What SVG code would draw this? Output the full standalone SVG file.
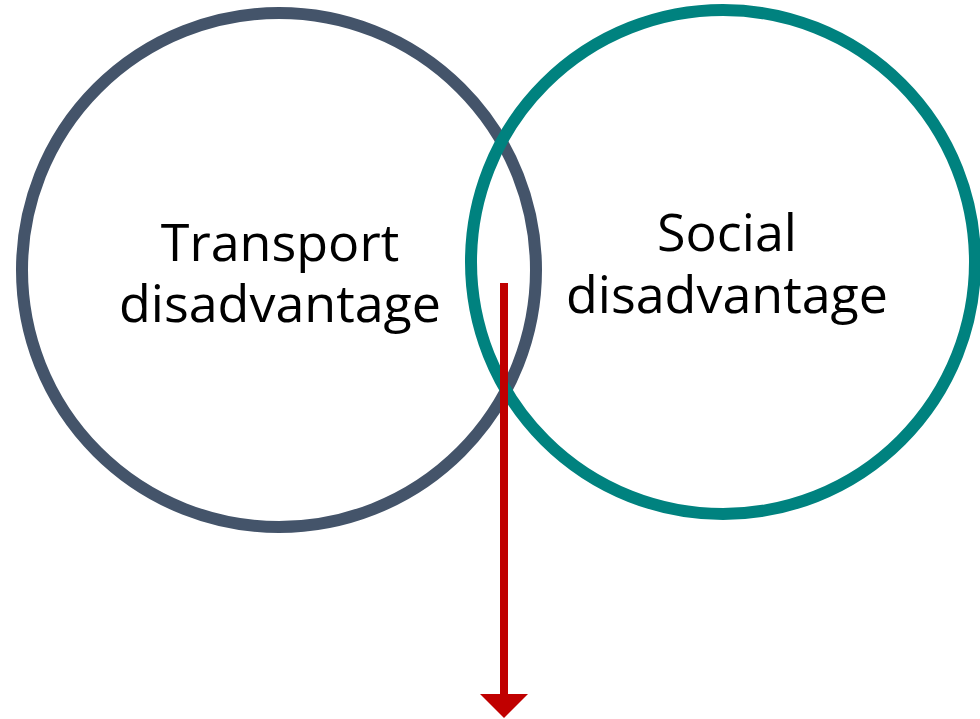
<svg xmlns="http://www.w3.org/2000/svg" width="980" height="719" viewBox="0 0 980 719">
<style>
.lbl{font-family:"Open Sans","Noto Sans",sans-serif;font-size:52px;fill:#000;text-anchor:middle}
.ring{fill:none;stroke-width:12}
</style>
<defs>
<marker id="ah" markerWidth="6" markerHeight="6" refX="0" refY="3" orient="auto" markerUnits="strokeWidth">
<path d="M0,0 L3,3 L0,6 Z" fill="#C00000"/>
</marker>
</defs>
<rect width="980" height="719" fill="#fff"/>
<g id="transport">
<circle class="ring" cx="279" cy="270" r="257" stroke="#44546A"/>
<text class="lbl" x="280" y="261">Transport</text>
<text class="lbl" x="280" y="322">disadvantage</text>
</g>
<g id="social">
<circle class="ring" cx="723" cy="262" r="252" stroke="#00827F"/>
<text class="lbl" x="727" y="251">Social</text>
<text class="lbl" x="727" y="313">disadvantage</text>
</g>
<g id="connectors">
<line x1="504" y1="283" x2="504" y2="694" stroke="#C00000" stroke-width="8" marker-end="url(#ah)"/>
</g>
</svg>
